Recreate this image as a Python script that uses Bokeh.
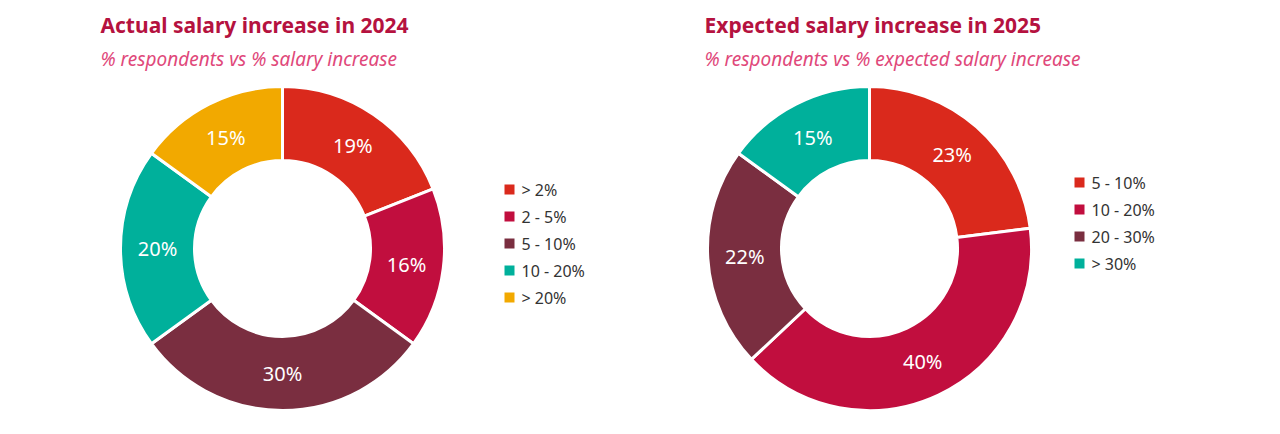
import math
from bokeh.plotting import figure
from bokeh.models import Range1d, ColumnDataSource
from bokeh.core.properties import value
from bokeh.embed import file_html
from bokeh.resources import INLINE

left_cats = ["> 2%", "2 - 5%", "5 - 10%", "10 - 20%", "> 20%"]
left_vals = [19, 16, 30, 20, 15]
left_cols = ["#DA291C", "#C10E3E", "#7A2E40", "#00B09B", "#F2A900"]
right_cats = ["5 - 10%", "10 - 20%", "20 - 30%", "> 30%"]
right_vals = [23, 40, 22, 15]
right_cols = ["#DA291C", "#C10E3E", "#7A2E40", "#00B09B"]

W, H = 1264, 418
p = figure(width=W, height=H, output_backend="svg", toolbar_location=None,
           x_range=Range1d(0, W), y_range=Range1d(0, H), min_border=0)
p.axis.visible = False
p.grid.visible = False
p.outline_line_color = None

def X(px): return px - 8
def Y(py): return 426 - py

FONT = value("Noto Sans")

def donut(cx, cy, cats, vals, cols, lx, ly0, title, sub, tx):
    total = sum(vals)
    starts, ends, lxs, lys, labs = [], [], [], [], []
    cum = 0
    for v in vals:
        e = math.pi/2 - cum/total*2*math.pi
        s = e - v/total*2*math.pi
        starts.append(s); ends.append(e)
        m = (s+e)/2
        lxs.append(X(cx) + 125*math.cos(m)); lys.append(Y(cy) + 125*math.sin(m))
        labs.append(f"{v}%")
        cum += v
    src = ColumnDataSource(dict(s=starts, e=ends, c=cols))
    p.annular_wedge(x=X(cx), y=Y(cy), inner_radius=88, outer_radius=162,
                    start_angle="s", end_angle="e", fill_color="c",
                    line_color="white", line_width=3, source=src)
    p.text(x=lxs, y=lys, text=labs, text_color="white", text_font=FONT,
           text_font_size="20px", text_align="center", text_baseline="middle")
    ys = [Y(ly0 + 27*i) for i in range(len(cats))]
    p.rect(x=[X(lx)]*len(cats), y=ys, width=10, height=10, fill_color=cols, line_color=None)
    p.text(x=[X(lx+12)]*len(cats), y=ys, text=cats, text_color="#333333", text_font=FONT,
           text_font_size="16px", text_baseline="middle")
    p.text(x=[X(tx)], y=[Y(32)], text=[title], text_color="#B5123F", text_font=FONT,
           text_font_size="21px", text_font_style="bold", text_baseline="middle")
    p.text(x=[X(tx)], y=[Y(66)], text=[sub], text_color="#E0487A", text_font=FONT,
           text_font_size="19px", text_font_style="italic", text_baseline="middle")

donut(290, 256, left_cats, left_vals, left_cols, 517, 197,
      "Actual salary increase in 2024", "% respondents vs % salary increase", 108)
donut(877, 256, right_cats, right_vals, right_cols, 1087, 190,
      "Expected salary increase in 2025", "% respondents vs % expected salary increase", 712)

open("out.html", "w").write(file_html(p, INLINE))
